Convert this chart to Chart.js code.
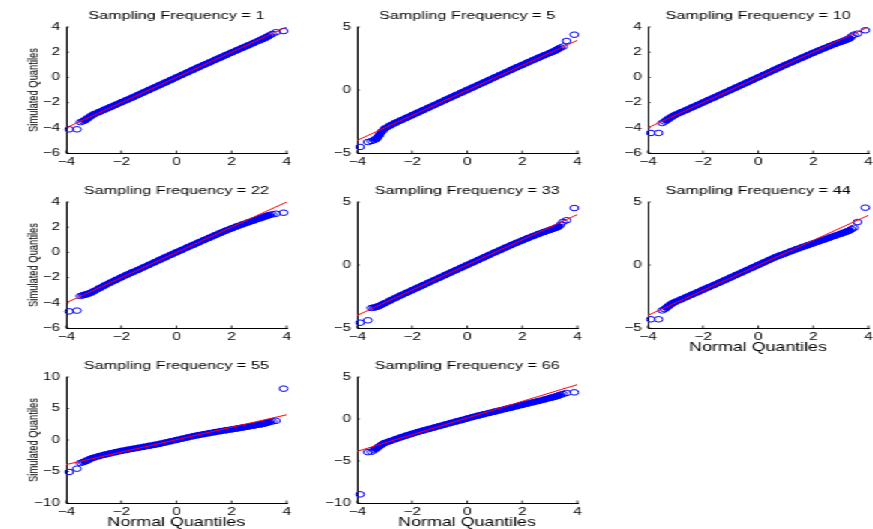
<!DOCTYPE html>
<html><head><meta charset="utf-8">
<script src="https://cdn.jsdelivr.net/npm/chart.js@4.4.1/dist/chart.umd.min.js"></script>
<style>
html,body{margin:0;padding:0;background:#fff;overflow:hidden;width:873px;height:529px}
#fig{position:absolute;left:0;top:0;width:582px;height:529px;transform:scaleX(1.5);transform-origin:0 0;}
#fig canvas{position:absolute;}
</style></head><body><div id="fig"></div>
<script>
// ---- data ----
const frequencies = [1, 5, 10, 22, 33, 44, 55, 66];
const normalQuantiles = [-3.89,-3.61,-3.48,-3.39,-3.32,-3.26,-3.19,-3.10,
 -3.0,-2.8,-2.6,-2.4,-2.2,-2.0,-1.8,-1.6,-1.4,-1.2,-1.0,-0.8,-0.6,-0.4,-0.2,0,0.2,0.4,0.6,0.8,1.0,1.2,1.4,1.6,1.8,2.0,2.2,2.4,2.6,2.8,3.0,
 3.10,3.19,3.26,3.32,3.39,3.48,3.61,3.89];
const sim_f1 = [-4.12,-4.12,-3.55,-3.48,-3.40,-3.30,-3.20,-3.06,
 -2.93,-2.74,-2.55,-2.36,-2.17,-1.98,-1.79,-1.60,-1.40,-1.20,-1.00,-0.80,-0.60,-0.40,-0.20,0.00,0.20,0.40,0.60,0.80,1.00,1.19,1.39,1.58,1.78,1.97,2.16,2.35,2.54,2.73,2.92,
 3.02,3.10,3.18,3.26,3.34,3.45,3.58,3.68];
const sim_f5 = [-4.52,-4.13,-4.05,-3.98,-3.90,-3.78,-3.58,-3.30,
 -3.08,-2.82,-2.60,-2.40,-2.20,-2.00,-1.80,-1.60,-1.40,-1.20,-1.00,-0.80,-0.60,-0.40,-0.20,0.00,0.20,0.40,0.60,0.80,1.00,1.20,1.40,1.60,1.80,1.99,2.19,2.38,2.57,2.76,2.94,
 3.03,3.12,3.20,3.28,3.36,3.45,3.89,4.39];
const sim_f10 = [-4.41,-4.41,-3.62,-3.50,-3.40,-3.30,-3.20,-3.08,
 -2.96,-2.77,-2.58,-2.38,-2.19,-1.99,-1.79,-1.60,-1.40,-1.20,-1.00,-0.80,-0.60,-0.40,-0.20,0.00,0.20,0.40,0.60,0.80,1.00,1.19,1.38,1.57,1.76,1.95,2.13,2.31,2.49,2.66,2.82,
 2.90,2.98,3.04,3.10,3.25,3.39,3.47,3.74];
const sim_f22 = [-4.68,-4.62,-3.46,-3.40,-3.36,-3.32,-3.27,-3.20,
 -3.08,-2.85,-2.62,-2.40,-2.19,-1.98,-1.78,-1.58,-1.39,-1.19,-0.99,-0.79,-0.59,-0.39,-0.19,0.01,0.20,0.40,0.59,0.79,0.98,1.17,1.36,1.55,1.73,1.90,2.07,2.23,2.38,2.53,2.68,
 2.76,2.83,2.88,2.93,2.97,3.02,3.07,3.15];
const sim_f33 = [-4.58,-4.39,-3.41,-3.38,-3.34,-3.30,-3.24,-3.14,
 -3.04,-2.82,-2.61,-2.40,-2.20,-2.00,-1.80,-1.60,-1.40,-1.20,-1.00,-0.80,-0.60,-0.40,-0.20,0.00,0.20,0.40,0.60,0.80,1.00,1.19,1.39,1.58,1.77,1.95,2.13,2.30,2.47,2.63,2.78,
 2.86,2.93,2.99,3.05,3.20,3.42,3.55,4.52];
const sim_f44 = [-4.31,-4.31,-3.60,-3.50,-3.38,-3.27,-3.15,-3.03,
 -2.92,-2.73,-2.54,-2.35,-2.16,-1.96,-1.77,-1.58,-1.39,-1.19,-0.99,-0.79,-0.60,-0.40,-0.20,0.00,0.20,0.40,0.60,0.77,0.93,1.10,1.26,1.42,1.57,1.72,1.87,2.02,2.18,2.33,2.48,
 2.56,2.63,2.69,2.75,2.85,2.95,3.41,4.55];
const sim_f55 = [-5.08,-4.55,-3.65,-3.52,-3.40,-3.30,-3.12,-2.95,
 -2.80,-2.55,-2.33,-2.12,-1.92,-1.74,-1.57,-1.41,-1.25,-1.09,-0.93,-0.77,-0.60,-0.40,-0.20,0.00,0.20,0.40,0.60,0.77,0.93,1.09,1.25,1.40,1.55,1.68,1.83,1.98,2.12,2.27,2.43,
 2.52,2.61,2.69,2.77,2.86,2.95,3.05,8.15];
const sim_f66 = [-8.97,-3.95,-3.90,-3.72,-3.55,-3.40,-3.25,-3.05,
 -2.86,-2.63,-2.40,-2.17,-1.96,-1.75,-1.56,-1.38,-1.20,-1.02,-0.84,-0.66,-0.48,-0.30,-0.13,0.05,0.23,0.40,0.56,0.72,0.88,1.04,1.20,1.36,1.52,1.68,1.84,2.00,2.15,2.32,2.50,
 2.58,2.66,2.73,2.80,2.88,2.98,3.10,3.17];
const simulated = [sim_f1, sim_f5, sim_f10, sim_f22, sim_f33, sim_f44, sim_f55, sim_f66];
const refLineX = [-4, 4];
const refLineY = [[-4,4],[-4,3.94],[-4,4],[-4,4],[-4,4],[-4,3.94],[-3.9,4.0],[-3.85,4.09]];
const xTickLimits = [-4, 4], xTickStep = 2;
const yTickLimits = [[-6,4],[-5,5],[-6,4],[-6,4],[-5,5],[-5,5],[-10,10],[-10,5]];
const yTickSteps = [2,5,2,2,5,5,5,5];
const titleText = 'Sampling Frequency = ';
const xLabelText = 'Normal Quantiles';
const yLabelText = 'Simulated Quantiles';
const showXLabel = [false,false,false,false,false,true,true,true];
const showYLabel = [true,false,false,true,false,false,true,false];

// ---- layout (unscaled coordinates; figure is stretched 1.5x horizontally) ----
const colLeft = [43.8, 237.8, 431.8];
const rowTop = [26.7, 201.7, 377.3];
const AXW = 40, TITLEH = 27, XAXH = 26, PW = 147, PH = 126, RPAD = 8;
const FONT = "'Liberation Sans', Arial, Helvetica, sans-serif";
Chart.defaults.font.family = FONT;
Chart.defaults.color = '#000';

const fmt = v => (v < 0 ? '\u2212' + (-v) : String(v));

const innerTicks = {
  id: 'innerTicks',
  afterDraw(chart) {
    const ctx = chart.ctx, a = chart.chartArea, xs = chart.scales.x, ys = chart.scales.y;
    ctx.save();
    ctx.strokeStyle = '#000';
    ctx.lineWidth = 0.8;
    ctx.beginPath();
    xs.ticks.forEach(t => { const p = xs.getPixelForValue(t.value); ctx.moveTo(p, a.bottom); ctx.lineTo(p, a.bottom - 2.5); });
    ys.ticks.forEach(t => { const p = ys.getPixelForValue(t.value); ctx.moveTo(a.left, p); ctx.lineTo(a.left + 1.8, p); });
    ctx.stroke();
    ctx.restore();
  }
};

const fig = document.getElementById('fig');
frequencies.forEach((f, i) => {
  const col = i % 3, row = Math.floor(i / 3);
  const cv = document.createElement('canvas');
  cv.width = AXW + PW + RPAD;
  cv.height = TITLEH + PH + XAXH;
  cv.style.left = (colLeft[col] - AXW) + 'px';
  cv.style.top = (rowTop[row] - TITLEH) + 'px';
  fig.appendChild(cv);

  const pts = normalQuantiles.map((x, k) => ({x: x, y: simulated[i][k]}));
  const core = pts.filter(p => Math.abs(p.x) < 3.35);
  const ref = refLineX.map((x, k) => ({x: x, y: refLineY[i][k]}));

  new Chart(cv, {
    type: 'line',
    data: {
      datasets: [
        {data: ref, borderColor: 'rgb(255,0,0)', borderWidth: 1, pointRadius: 0, showLine: true, fill: false, tension: 0},
        {data: pts, showLine: false, pointRadius: 2.8, pointStyle: 'circle', pointBorderColor: 'rgb(0,0,255)',
         pointBackgroundColor: 'rgba(0,0,0,0)', pointBorderWidth: 1, clip: false},
        {data: core, showLine: true, borderColor: 'rgb(0,0,255)', borderWidth: 6, pointRadius: 0, fill: false, tension: 0,
         borderJoinStyle: 'round', borderCapStyle: 'round'}
      ]
    },
    options: {
      responsive: false,
      devicePixelRatio: 1,
      animation: false,
      events: [],
      layout: {padding: {left: 0, right: RPAD, top: 0, bottom: 0}},
      plugins: {
        legend: {display: false},
        tooltip: {enabled: false},
        title: {display: true, text: titleText + f, fullSize: false, color: '#000',
                font: {size: 10.8, weight: 'normal', lineHeight: '12px'}, padding: {top: 10.5, bottom: 4.5}}
      },
      scales: {
        x: {
          type: 'linear', min: xTickLimits[0], max: xTickLimits[1],
          ticks: {stepSize: xTickStep, padding: 3, color: '#000', font: {size: 10.3}, maxRotation: 0, autoSkip: false, callback: fmt},
          grid: {display: true, drawOnChartArea: false, drawTicks: false},
          border: {display: true, color: '#000', width: 1},
          title: {display: showXLabel[i], text: xLabelText, color: '#000', font: {size: 11.9, lineHeight: '12px'}, padding: {top: 0, bottom: 0}},
          afterFit(s) { s.height = XAXH; s.paddingLeft = 0; s.paddingRight = 0; }
        },
        y: {
          type: 'linear', min: yTickLimits[i][0], max: yTickLimits[i][1],
          ticks: {stepSize: yTickSteps[i], padding: 4, color: '#000', font: {size: 10.3}, autoSkip: false, callback: fmt},
          grid: {display: true, drawOnChartArea: false, drawTicks: false},
          border: {display: true, color: '#000', width: 1},
          title: {display: showYLabel[i], text: yLabelText, color: '#000', font: {size: 9.4, lineHeight: '11px'}, padding: {top: 12.5, bottom: 0}},
          afterFit(s) { s.width = AXW; s.paddingTop = 0; s.paddingBottom = 0; }
        }
      }
    },
    plugins: [innerTicks]
  });
});
</script>
</body></html>
